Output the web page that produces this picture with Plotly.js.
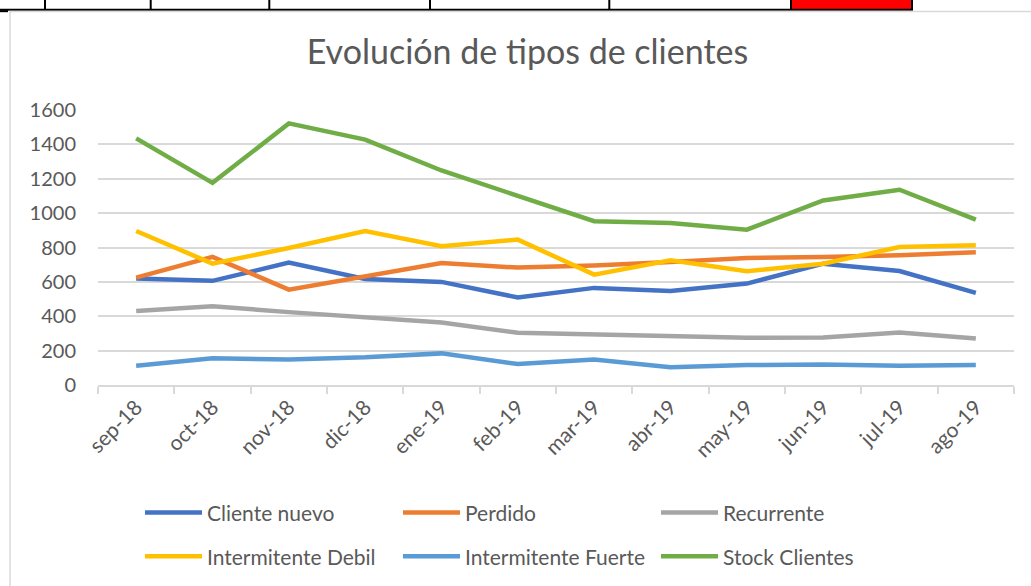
<!DOCTYPE html>
<html>
<head>
<meta charset="utf-8">
<script src="https://cdn.plot.ly/plotly-3.0.1.min.js"></script>
<style>html,body{margin:0;padding:0;background:#fff;}#chart{width:1031px;height:586px;}</style>
</head>
<body>
<div id="chart"></div>
<script>
// ---- data ----
const months = ["sep-18","oct-18","nov-18","dic-18","ene-19","feb-19","mar-19","abr-19","may-19","jun-19","jul-19","ago-19"];
const clienteNuevo = [619, 606, 712, 617, 600, 509, 565, 547, 590, 706, 663, 536];
const perdido = [625, 745, 555, 635, 710, 683, 696, 716, 739, 745, 755, 772];
const recurrente = [431, 458, 424, 393, 364, 304, 294, 286, 275, 277, 306, 271];
const intermitenteDebil = [896, 706, 797, 896, 807, 846, 642, 725, 662, 706, 803, 813];
const intermitenteFuerte = [112, 155, 149, 161, 184, 122, 149, 103, 116, 120, 112, 116];
const stockClientes = [1435, 1176, 1522, 1428, 1248, 1099, 953, 942, 904, 1074, 1136, 962];
const yTicks = [0, 200, 400, 600, 800, 1000, 1200, 1400, 1600];

// ---- layout helpers (pixel -> paper) ----
const W = 1031, H = 586;
const L = 98, R = 1014, T = 109.5, B = 385;
const px = x => (x - L) / (R - L);
const py = y => (B - y) / (B - T);

const FONT = "Lato, 'Open Sans', sans-serif";
const GREY = "#595959";

function tr(name, y, color, legend) {
  return {
    x: months, y: y, name: name, type: "scatter", mode: "lines",
    line: {color: color, width: 4.5, shape: "linear"},
    legend: legend, hoverinfo: "x+y+name"
  };
}

const data = [
  tr("Cliente nuevo", clienteNuevo, "#4472C4", "legend"),
  tr("Perdido", perdido, "#ED7D31", "legend"),
  tr("Recurrente", recurrente, "#A5A5A5", "legend"),
  tr("Intermitente Debil", intermitenteDebil, "#FFC000", "legend2"),
  tr("Intermitente Fuerte", intermitenteFuerte, "#5B9BD5", "legend2"),
  tr("Stock Clientes", stockClientes, "#70AD47", "legend2")
];

// spreadsheet fragment above the chart
const cellEdges = [45, 150.7, 269.3, 430, 609.3, 791, 912];
const shapes = [];
shapes.push({type: "rect", xref: "paper", yref: "paper", x0: px(791), x1: px(912), y0: py(9), y1: py(-2), fillcolor: "#FF0000", line: {width: 0}, layer: "below"});
cellEdges.forEach(e => shapes.push({type: "line", xref: "paper", yref: "paper", x0: px(e), x1: px(e), y0: py(9), y1: py(-2), line: {color: "#000", width: 2}}));
shapes.push({type: "line", xref: "paper", yref: "paper", x0: px(0), x1: px(913), y0: py(9), y1: py(9), line: {color: "#000", width: 2}});
// chart area border
shapes.push({type: "line", xref: "paper", yref: "paper", x0: px(9), x1: px(1040), y0: py(10.8), y1: py(10.8), line: {color: "#D9D9D9", width: 1.5}});
shapes.push({type: "line", xref: "paper", yref: "paper", x0: px(10), x1: px(10), y0: py(10.5), y1: py(600), line: {color: "#D9D9D9", width: 1.5}});
shapes.push({type: "line", xref: "paper", yref: "paper", x0: px(0), x1: px(8), y0: py(10.5), y1: py(10.5), line: {color: "#000", width: 2}});

const legendCommon = {
  orientation: "h", xanchor: "left", yanchor: "middle",
  entrywidth: 186, entrywidthmode: "pixels", itemwidth: 57,
  font: {family: FONT, size: 21, color: GREY}, bgcolor: "rgba(0,0,0,0)"
};

const layout = {
  width: W, height: H,
  paper_bgcolor: "rgba(0,0,0,0)", plot_bgcolor: "rgba(0,0,0,0)",
  margin: {l: L, r: W - R, t: T, b: H - B, pad: 0, autoexpand: false},
  title: {
    text: "Evolución de tipos de clientes",
    font: {family: FONT, size: 34, color: GREY},
    xref: "container", yref: "container",
    x: 527.5 / W, xanchor: "center",
    y: 1 - 52 / H, yanchor: "middle"
  },
  xaxis: {
    type: "category", categoryorder: "array", categoryarray: months,
    range: [-0.5, 11.5], fixedrange: true, automargin: false,
    showgrid: false, zeroline: false,
    showline: true, linecolor: "#D9D9D9", linewidth: 1.5,
    ticks: "outside", tickson: "boundaries", ticklen: 7, tickcolor: "#D9D9D9", tickwidth: 1.5,
    tickangle: -45,
    tickfont: {family: FONT, size: 21, color: GREY}
  },
  yaxis: {
    range: [0, 1600], fixedrange: true, automargin: false,
    tickvals: yTicks, ticktext: yTicks.map(String),
    showgrid: true, gridcolor: "#D9D9D9", gridwidth: 1.5,
    zeroline: false, showline: false, ticks: "",
    ticklabelstandoff: 21,
    tickfont: {family: FONT, size: 20, color: GREY}
  },
  legend: Object.assign({}, legendCommon, {x: px(140), y: py(513)}),
  legend2: Object.assign({}, legendCommon, {x: px(140), y: py(557)}),
  shapes: shapes,
  showlegend: true
};

Plotly.newPlot("chart", data, layout, {displayModeBar: false});
</script>
</body>
</html>
